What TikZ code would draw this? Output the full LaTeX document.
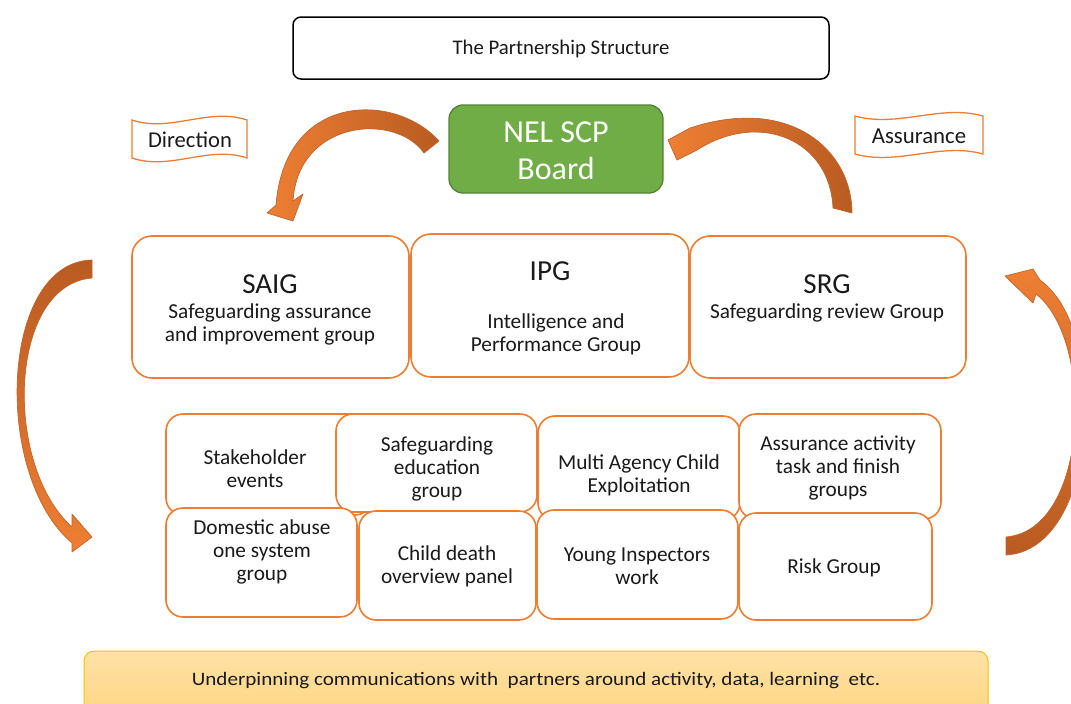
\documentclass[tikz,border=0pt]{standalone}
\usepackage{fontspec}
\setmainfont{Carlito}
\definecolor{boxorange}{HTML}{ED7D31}
\definecolor{arrlight}{HTML}{EE7F33}
\definecolor{arrdark}{HTML}{B95B22}
\definecolor{arredge}{HTML}{C0652E}
\definecolor{boardgreen}{HTML}{70AD47}
\definecolor{boardedge}{HTML}{548235}
\definecolor{bartop}{HTML}{FFE2A6}
\definecolor{barbot}{HTML}{FFD27C}
\definecolor{baredge}{HTML}{FFC000}
\definecolor{txtcol}{HTML}{1A1A1A}
\tikzset{
  bigbox/.style={draw=boxorange, line width=1.6pt, rounded corners=20pt, fill=white, inner sep=0pt},
  smallbox/.style={draw=boxorange, line width=1.6pt, rounded corners=17pt, fill=white, inner sep=0pt},
  banner/.style={draw=boxorange, line width=1.3pt, fill=white},
  curvarrow/.style={draw=arredge, line width=0.7pt, line join=round},
  txt/.style={align=center, inner sep=0pt, text=txtcol, font=\fontsize{21.3}{23}\selectfont},
  headtxt/.style={align=center, inner sep=0pt, text=txtcol, font=\fontsize{29}{30}\selectfont},
}
\begin{document}
\begin{tikzpicture}[x=1pt,y=-1pt]
\useasboundingbox (0,0) rectangle (1071,704);
\clip (0,0) rectangle (1071,704);

% title
\node[draw=black, line width=1.5pt, rounded corners=8pt, minimum width=536pt, minimum height=62pt, inner sep=0pt] (title) at (561,48) {};
\node[txt, font=\fontsize{20.8}{23}\selectfont] (titletxt) at (561,49) {The Partnership Structure};

% board
\node[draw=boardedge, fill=boardgreen, line width=1.3pt, rounded corners=14pt, minimum width=214pt, minimum height=88pt, inner sep=0pt] (board) at (556,149) {};
\node[align=center, inner sep=0pt, text=white, font=\fontsize{32}{37}\selectfont] (boardtxt) at (556,151) {NEL SCP\\Board};

% banners
\draw[banner] (132,120) .. controls (170.3,133) and (208.7,107) .. (247,120) -- (247,158) .. controls (208.7,145) and (170.3,171) .. (132,158) -- cycle;
\node[txt, font=\fontsize{22.6}{23}\selectfont] (direction) at (190,140) {Direction};
\draw[banner] (855,116) .. controls (897.7,128) and (940.3,104) .. (983,116) -- (983,154) .. controls (940.3,142) and (897.7,166) .. (855,154) -- cycle;
\node[txt, font=\fontsize{22.8}{23}\selectfont] (assurance) at (919,136) {Assurance};

% curved arrows
\shadedraw[curvarrow, left color=arrlight, right color=arrdark]
  (439,141) .. controls (395,92) and (285,92) .. (276,205) -- (267,213) -- (293,221) -- (303,194) -- (293,201)
  .. controls (298,120) and (395,112) .. (424,153) -- cycle;
\shadedraw[curvarrow, left color=arrlight, right color=arrdark]
  (852,213) .. controls (852,150) and (790,95) .. (690,128) -- (668,140) -- (677,160) -- (697,150)
  .. controls (760,110) and (830,140) .. (833,208) -- cycle;
\shadedraw[curvarrow, top color=arrdark, bottom color=arrlight]
  (92,260) .. controls (0,262) and (-8,475) .. (72,543) -- (72,552) -- (92,537) -- (72,514) -- (72,527)
  .. controls (3,465) and (8,285) .. (92,278) -- cycle;
\shadedraw[curvarrow, top color=arrlight, bottom color=arrdark]
  (1006,555) .. controls (1100,550) and (1110,330) .. (1040,280) -- (1033,269) -- (1005,276) -- (1033,303) -- (1036,294)
  .. controls (1095,340) and (1090,530) .. (1006,537) -- cycle;

% big group boxes
\node[bigbox, minimum width=277pt, minimum height=142pt] (saig) at (270.5,307) {};
\node[bigbox, minimum width=278pt, minimum height=143pt] (ipg) at (550,305.5) {};
\node[bigbox, minimum width=276pt, minimum height=142pt] (srg) at (828,307) {};
\node[headtxt] (saigt) at (270,284) {SAIG};
\node[txt] (saigs) at (270,324.5) {Safeguarding assurance\\and improvement group};
\node[headtxt] (ipgt) at (550,271) {IPG};
\node[txt] (ipgs) at (556,334.5) {Intelligence and\\Performance Group};
\node[headtxt] (srgt) at (827,284) {SRG};
\node[txt] (srgs) at (827,313) {Safeguarding review Group};

% small boxes row 1
\node[smallbox, minimum width=206pt, minimum height=101pt] (stake) at (269,464.5) {};
\node[smallbox, minimum width=201pt, minimum height=98pt] (edu) at (436.5,463) {};
\node[smallbox, minimum width=202pt, minimum height=104pt] (mace) at (639,468) {};
\node[smallbox, minimum width=202pt, minimum height=105pt] (assact) at (840,466.5) {};
% row 2
\node[smallbox, minimum width=191pt, minimum height=109pt] (dom) at (261.5,562.5) {};
\node[smallbox, minimum width=177pt, minimum height=109pt] (cdop) at (447.5,565.5) {};
\node[smallbox, minimum width=201pt, minimum height=109pt] (yiw) at (637.5,564.5) {};
\node[smallbox, minimum width=193pt, minimum height=107pt] (risk) at (835.5,566.5) {};

\node[txt] (staket) at (255,469) {Stakeholder\\events};
\node[txt] (edut) at (437,469) {Safeguarding\\education\\group};
\node[txt] (macet) at (639,475) {Multi Agency Child\\Exploitation};
\node[txt] (assactt) at (838,468) {Assurance activity\\task and finish\\groups};
\node[txt] (domt) at (262,552) {Domestic abuse\\one system\\group};
\node[txt] (cdopt) at (447,566) {Child death\\overview panel};
\node[txt] (yiwt) at (637,566) {Young Inspectors\\work};
\node[txt] (riskt) at (834,568) {Risk Group};

% bottom bar
\shadedraw[top color=bartop, bottom color=barbot, draw=baredge, line width=1pt, rounded corners=10pt]
  (84,730) -- (84,651) -- (988,651) -- (988,730) -- cycle;
\node[inner sep=0pt, text=txtcol, font=\fontsize{19}{22}\selectfont] (bottomtxt) at (536,681) {\scalebox{1.11}[1]{Underpinning communications with\ \ partners around activity, data, learning\ \ etc.}};
\end{tikzpicture}
\end{document}
